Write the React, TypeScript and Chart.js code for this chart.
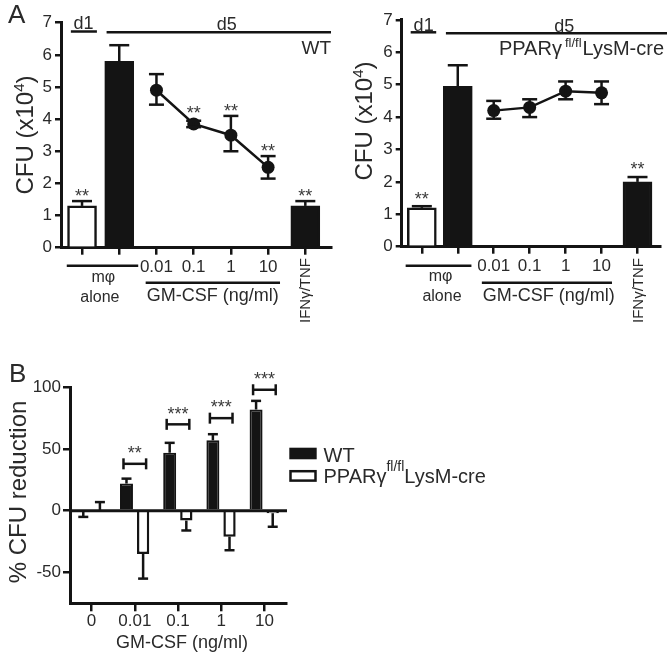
import React, { useEffect, useRef } from 'react';
import { Chart, registerables } from 'chart.js';

Chart.register(...registerables);

const W = 667;
const H = 652;
const FONT = '"Liberation Sans", Arial, Helvetica, sans-serif';
const INK = '#141414';
const TEXT = '#2a2a2a';

// ---------- Panel A data ----------
const aPositions = [0, 1, 2, 3, 4, 5, 6];
const aTickLabels = ['', '', '0.01', '0.1', '1', '10', ''];
const aBarPositions = [0, 1, 6];
const aBarFills = ['#ffffff', INK, INK];
const aDosePositions = [2, 3, 4, 5];
const aYTicks = [0, 1, 2, 3, 4, 5, 6, 7];

const wtBarValues = [1.3, 5.8, 1.3];
const wtBarErrHigh = [1.45, 6.3, 1.45];
const wtDoseValues = [4.9, 3.85, 3.5, 2.5];
const wtDoseErrHigh = [5.4, 3.95, 4.1, 2.85];
const wtDoseErrLow = [4.45, 3.75, 3.0, 2.15];
const wtBarSig = ['**', '', '**'];
const wtDoseSig = ['', '**', '**', '**'];

const koBarValues = [1.2, 4.95, 2.0];
const koBarErrHigh = [1.25, 5.6, 2.15];
const koDoseValues = [4.2, 4.3, 4.8, 4.75];
const koDoseErrHigh = [4.5, 4.55, 5.1, 5.1];
const koDoseErrLow = [3.95, 4.0, 4.55, 4.4];
const koBarSig = ['**', '', '**'];
const koDoseSig = ['', '', '', ''];

// ---------- Panel B data ----------
const bCategories = ['0', '0.01', '0.1', '1', '10'];
const bWT = [0, 22, 47, 57, 82];
const bWTErr = [-5, 26, 55, 62, 89];
const bKO = [0, -35, -8, -21, -2];
const bKOErr = [7, -55, -16, -32, -13];
const bSig = ['', '**', '***', '***', '***'];
const bSigLevel = [0, 38, 70, 75, 98];
const bYTicks = [-50, 0, 50, 100];

type Part = { t: string; size: number; rise?: number; dx?: number };

function drawParts(
  ctx: CanvasRenderingContext2D,
  parts: Part[],
  x: number,
  y: number,
  align: 'left' | 'right' | 'center',
  baseline: CanvasTextBaseline = 'alphabetic',
  color: string = TEXT
) {
  ctx.save();
  ctx.fillStyle = color;
  ctx.textBaseline = baseline;
  ctx.textAlign = 'left';
  const widths = parts.map((p) => {
    ctx.font = `${p.size}px ${FONT}`;
    return ctx.measureText(p.t).width + (p.dx || 0);
  });
  const total = widths.reduce((a, b) => a + b, 0);
  let cx = align === 'left' ? x : align === 'right' ? x - total : x - total / 2;
  parts.forEach((p, i) => {
    ctx.font = `${p.size}px ${FONT}`;
    ctx.fillText(p.t, cx + (p.dx || 0), y - (p.rise || 0));
    cx += widths[i];
  });
  ctx.restore();
}

function drawRotated(
  ctx: CanvasRenderingContext2D,
  parts: Part[],
  x: number,
  y: number,
  align: 'left' | 'right' | 'center',
  baseline: CanvasTextBaseline = 'alphabetic'
) {
  ctx.save();
  ctx.translate(x, y);
  ctx.rotate(-Math.PI / 2);
  drawParts(ctx, parts, 0, 0, align, baseline);
  ctx.restore();
}

function seg(ctx: CanvasRenderingContext2D, x1: number, y1: number, x2: number, y2: number) {
  ctx.beginPath();
  ctx.moveTo(x1, y1);
  ctx.lineTo(x2, y2);
  ctx.stroke();
}

function stars(ctx: CanvasRenderingContext2D, s: string, x: number, centerY: number) {
  drawParts(ctx, [{ t: s, size: 18 }], x, centerY + 10.3, 'center', 'alphabetic', '#3a3a3a');
}

interface PanelASpec {
  area: { left: number; right: number; top: number; bottom: number };
  xMin: number;
  xMax: number;
  barValues: number[];
  barErrHigh: number[];
  doseValues: number[];
  doseErrHigh: number[];
  doseErrLow: number[];
  barSig: string[];
  doseSig: string[];
  sigGap: number;
  decorate: (ctx: CanvasRenderingContext2D, xs: any) => void;
}

function panelAPlugin(s: PanelASpec) {
  return {
    id: 'panelAExtras',
    afterDraw(chart: any) {
      const ctx: CanvasRenderingContext2D = chart.ctx;
      const xs = chart.scales.x;
      const ys = chart.scales.y;
      ctx.save();
      ctx.strokeStyle = INK;
      ctx.lineWidth = 2.5;
      aBarPositions.forEach((pos, i) => {
        const x = xs.getPixelForValue(pos);
        const yv = ys.getPixelForValue(s.barValues[i]);
        const yh = ys.getPixelForValue(s.barErrHigh[i]);
        seg(ctx, x, yv, x, yh);
        seg(ctx, x - 10, yh, x + 10, yh);
        if (s.barSig[i]) stars(ctx, s.barSig[i], x, yh - s.sigGap);
      });
      aDosePositions.forEach((pos, i) => {
        const x = xs.getPixelForValue(pos);
        const yh = ys.getPixelForValue(s.doseErrHigh[i]);
        const yl = ys.getPixelForValue(s.doseErrLow[i]);
        seg(ctx, x, yl, x, yh);
        seg(ctx, x - 7.5, yh, x + 7.5, yh);
        seg(ctx, x - 7.5, yl, x + 7.5, yl);
        if (s.doseSig[i]) {
          const top = Math.min(yh, ys.getPixelForValue(s.doseValues[i]) - 6.5);
          stars(ctx, s.doseSig[i], x, top - s.sigGap);
        }
      });
      s.decorate(ctx, xs);
      ctx.restore();
    },
  };
}

function panelAConfig(s: PanelASpec): any {
  return {
    type: 'bar',
    data: {
      datasets: [
        {
          type: 'line',
          data: aDosePositions.map((x, i) => ({ x, y: s.doseValues[i] })),
          borderColor: INK,
          borderWidth: 2.5,
          pointRadius: 6.5,
          pointBackgroundColor: INK,
          pointBorderWidth: 0,
          tension: 0,
          order: 0,
        },
        {
          type: 'bar',
          data: aBarPositions.map((x, i) => ({ x, y: s.barValues[i] })),
          backgroundColor: aBarFills,
          borderColor: INK,
          borderWidth: 2.5,
          barThickness: 29,
          order: 1,
        },
      ],
    },
    options: {
      responsive: false,
      animation: false,
      events: [],
      layout: { padding: { left: 0, top: s.area.top, right: W - s.area.right, bottom: 0 } },
      plugins: { legend: { display: false }, tooltip: { enabled: false }, title: { display: false } },
      scales: {
        x: {
          type: 'linear',
          min: s.xMin,
          max: s.xMax,
          offset: false,
          afterBuildTicks: (sc: any) => {
            sc.ticks = aPositions.map((v) => ({ value: v }));
          },
          afterFit: (sc: any) => {
            sc.height = H - s.area.bottom;
          },
          grid: {
            display: true,
            offset: false,
            drawOnChartArea: false,
            drawTicks: true,
            tickLength: 7,
            color: INK,
            lineWidth: 2.5,
          },
          border: { display: true, color: INK, width: 3 },
          ticks: {
            autoSkip: false,
            maxRotation: 0,
            minRotation: 0,
            padding: 2,
            color: TEXT,
            font: { family: FONT, size: 17 },
            callback: (_v: any, i: number) => aTickLabels[i],
          },
        },
        y: {
          type: 'linear',
          min: 0,
          max: 7,
          afterBuildTicks: (sc: any) => {
            sc.ticks = aYTicks.map((v) => ({ value: v }));
          },
          afterFit: (sc: any) => {
            sc.width = s.area.left;
          },
          grid: {
            display: true,
            drawOnChartArea: false,
            drawTicks: true,
            tickLength: 6,
            color: INK,
            lineWidth: 2.5,
          },
          border: { display: true, color: INK, width: 3 },
          ticks: { padding: 3, color: TEXT, font: { family: FONT, size: 17 } },
        },
      },
    },
    plugins: [panelAPlugin(s)],
  };
}

const leftSpec: PanelASpec = {
  area: { left: 61, right: 331, top: 22.7, bottom: 247.7 },
  xMin: -0.565,
  xMax: 6.69,
  barValues: wtBarValues,
  barErrHigh: wtBarErrHigh,
  doseValues: wtDoseValues,
  doseErrHigh: wtDoseErrHigh,
  doseErrLow: wtDoseErrLow,
  barSig: wtBarSig,
  doseSig: wtDoseSig,
  sigGap: 9,
  decorate: (ctx, xs) => {
    const px = (u: number) => xs.getPixelForValue(u);
    ctx.lineWidth = 2.5;
    ctx.strokeStyle = INK;
    drawParts(ctx, [{ t: 'A', size: 26 }], 8, 23, 'left');
    drawRotated(ctx, [{ t: 'CFU (x10', size: 24 }, { t: '4', size: 15, rise: 9 }, { t: ')', size: 24 }], 33, 135, 'center');
    seg(ctx, px(-0.3), 31.5, px(0.4), 31.5);
    drawParts(ctx, [{ t: 'd1', size: 18 }], px(0.04), 28.5, 'center');
    seg(ctx, px(0.66), 32.3, xs.right, 32.3);
    drawParts(ctx, [{ t: 'd5', size: 18 }], px(3.89), 30, 'center');
    drawParts(ctx, [{ t: 'WT', size: 19 }], xs.right, 53.5, 'right');
    seg(ctx, px(-0.41), 265.7, px(1.51), 265.7);
    drawParts(ctx, [{ t: 'mφ', size: 16 }], px(0.57), 282, 'center');
    drawParts(ctx, [{ t: 'alone', size: 16 }], px(0.48), 301.5, 'center');
    seg(ctx, px(1.71), 282.7, px(5.32), 282.7);
    drawParts(ctx, [{ t: 'GM-CSF (ng/ml)', size: 18 }], px(3.51), 301, 'center');
    drawRotated(ctx, [{ t: 'IFNγ/TNF', size: 15 }], px(6) + 1, 258, 'right', 'middle');
  },
};

const rightSpec: PanelASpec = {
  area: { left: 401.7, right: 666.7, top: 19.9, bottom: 246.7 },
  xMin: -0.56,
  xMax: 6.64,
  barValues: koBarValues,
  barErrHigh: koBarErrHigh,
  doseValues: koDoseValues,
  doseErrHigh: koDoseErrHigh,
  doseErrLow: koDoseErrLow,
  barSig: koBarSig,
  doseSig: koDoseSig,
  sigGap: 12,
  decorate: (ctx, xs) => {
    const px = (u: number) => xs.getPixelForValue(u);
    ctx.lineWidth = 2.5;
    ctx.strokeStyle = INK;
    drawRotated(ctx, [{ t: 'CFU (x10', size: 24 }, { t: '4', size: 15, rise: 9 }, { t: ')', size: 24 }], 372, 121, 'center');
    seg(ctx, px(-0.31), 32.3, px(0.4), 32.3);
    drawParts(ctx, [{ t: 'd1', size: 18 }], px(0.05), 30.5, 'center');
    seg(ctx, px(0.67), 33.3, W, 33.3);
    drawParts(ctx, [{ t: 'd5', size: 18 }], px(3.96), 31.5, 'center');
    drawParts(
      ctx,
      [
        { t: 'PPARγ', size: 20 },
        { t: 'fl/fl', size: 13, rise: 8, dx: 3 },
        { t: 'LysM-cre', size: 20, dx: 1 },
      ],
      664,
      55,
      'right'
    );
    seg(ctx, px(-0.45), 265.7, px(1.38), 265.7);
    drawParts(ctx, [{ t: 'mφ', size: 16 }], px(0.52), 281, 'center');
    drawParts(ctx, [{ t: 'alone', size: 16 }], px(0.56), 300.5, 'center');
    seg(ctx, px(1.67), 282.7, px(5.29), 282.7);
    drawParts(ctx, [{ t: 'GM-CSF (ng/ml)', size: 18 }], px(3.53), 300.5, 'center');
    drawRotated(ctx, [{ t: 'IFNγ/TNF', size: 15 }], px(6) + 1, 258, 'right', 'middle');
  },
};

const bArea = { left: 70, right: 286, top: 387.3, bottom: 603.3 };

const panelBPlugin = {
  id: 'panelBExtras',
  afterDraw(chart: any) {
    const ctx: CanvasRenderingContext2D = chart.ctx;
    const ys = chart.scales.y;
    const xs = chart.scales.x;
    const ca = chart.chartArea;
    const wtMeta = chart.getDatasetMeta(0);
    const koMeta = chart.getDatasetMeta(1);
    ctx.save();
    ctx.strokeStyle = INK;
    ctx.lineWidth = 3;
    const y0 = ys.getPixelForValue(0);
    seg(ctx, ca.left, y0, ca.right + 1, y0);
    ctx.lineWidth = 2.5;
    bCategories.forEach((_c, i) => {
      const xw = wtMeta.data[i].x;
      const xk = koMeta.data[i].x;
      const yw = ys.getPixelForValue(bWT[i]);
      const ywe = ys.getPixelForValue(bWTErr[i]);
      seg(ctx, xw, yw, xw, ywe);
      seg(ctx, xw - 5, ywe, xw + 5, ywe);
      const yk = ys.getPixelForValue(bKO[i]);
      const yke = ys.getPixelForValue(bKOErr[i]);
      seg(ctx, xk, yk, xk, yke);
      seg(ctx, xk - 5, yke, xk + 5, yke);
      if (bSig[i]) {
        const yb = ys.getPixelForValue(bSigLevel[i]);
        const x1 = xw - 3;
        const x2 = xk + 3;
        seg(ctx, x1, yb, x2, yb);
        seg(ctx, x1, yb - 5.5, x1, yb + 5.5);
        seg(ctx, x2, yb - 5.5, x2, yb + 5.5);
        stars(ctx, bSig[i], (x1 + x2) / 2, yb - 15);
      }
    });
    drawParts(ctx, [{ t: 'B', size: 26 }], 9, 381.7, 'left');
    drawRotated(ctx, [{ t: '% CFU reduction', size: 24 }], 25.5, 492, 'center');
    drawParts(ctx, [{ t: 'GM-CSF (ng/ml)', size: 18 }], (xs.left + xs.right) / 2 + 4, 647.5, 'center');
    ctx.fillStyle = INK;
    ctx.fillRect(289.3, 447.7, 27.4, 11.6);
    ctx.lineWidth = 2.5;
    ctx.strokeRect(290.5, 471.2, 25, 9.4);
    drawParts(ctx, [{ t: 'WT', size: 20 }], 323.5, 461.7, 'left');
    drawParts(
      ctx,
      [
        { t: 'PPARγ', size: 20 },
        { t: 'fl/fl', size: 14, rise: 12, dx: 0 },
        { t: 'LysM-cre', size: 20, dx: 0 },
      ],
      323.5,
      483.3,
      'left'
    );
    ctx.restore();
  },
};

function panelBConfig(): any {
  return {
    type: 'bar',
    data: {
      labels: bCategories,
      datasets: [
        {
          label: 'WT',
          data: bWT,
          backgroundColor: INK,
          borderColor: INK,
          borderWidth: 2,
          categoryPercentage: 0.77,
          barPercentage: 0.78,
        },
        {
          label: 'PPARγ fl/fl LysM-cre',
          data: bKO,
          backgroundColor: '#ffffff',
          borderColor: INK,
          borderWidth: 2.5,
          categoryPercentage: 0.77,
          barPercentage: 0.74,
        },
      ],
    },
    options: {
      responsive: false,
      animation: false,
      events: [],
      layout: { padding: { left: 0, top: bArea.top, right: W - bArea.right, bottom: 0 } },
      plugins: { legend: { display: false }, tooltip: { enabled: false }, title: { display: false } },
      scales: {
        x: {
          type: 'category',
          offset: true,
          afterFit: (sc: any) => {
            sc.height = H - bArea.bottom;
          },
          grid: {
            display: true,
            offset: false,
            drawOnChartArea: false,
            drawTicks: true,
            tickLength: 8,
            color: INK,
            lineWidth: 2.5,
          },
          border: { display: true, color: INK, width: 3 },
          ticks: {
            autoSkip: false,
            maxRotation: 0,
            minRotation: 0,
            padding: 0,
            color: TEXT,
            font: { family: FONT, size: 17 },
          },
        },
        y: {
          type: 'linear',
          min: -75,
          max: 100,
          afterBuildTicks: (sc: any) => {
            sc.ticks = bYTicks.map((v) => ({ value: v }));
          },
          afterFit: (sc: any) => {
            sc.width = bArea.left;
          },
          grid: {
            display: true,
            drawOnChartArea: false,
            drawTicks: true,
            tickLength: 7,
            color: INK,
            lineWidth: 2.5,
          },
          border: { display: true, color: INK, width: 3 },
          ticks: { padding: 2, color: TEXT, font: { family: FONT, size: 17 } },
        },
      },
    },
    plugins: [panelBPlugin],
  };
}

export default function App() {
  const r1 = useRef<HTMLCanvasElement>(null);
  const r2 = useRef<HTMLCanvasElement>(null);
  const r3 = useRef<HTMLCanvasElement>(null);

  useEffect(() => {
    const charts = [
      new Chart(r1.current as HTMLCanvasElement, panelAConfig(leftSpec)),
      new Chart(r2.current as HTMLCanvasElement, panelAConfig(rightSpec)),
      new Chart(r3.current as HTMLCanvasElement, panelBConfig()),
    ];
    return () => charts.forEach((c) => c.destroy());
  }, []);

  const cs: React.CSSProperties = { position: 'absolute', left: 0, top: 0, width: W, height: H };
  return (
    <div style={{ position: 'fixed', left: 0, top: 0, width: W, height: H, background: '#ffffff', overflow: 'hidden' }}>
      <canvas ref={r1} width={W} height={H} style={cs} />
      <canvas ref={r2} width={W} height={H} style={cs} />
      <canvas ref={r3} width={W} height={H} style={cs} />
    </div>
  );
}
